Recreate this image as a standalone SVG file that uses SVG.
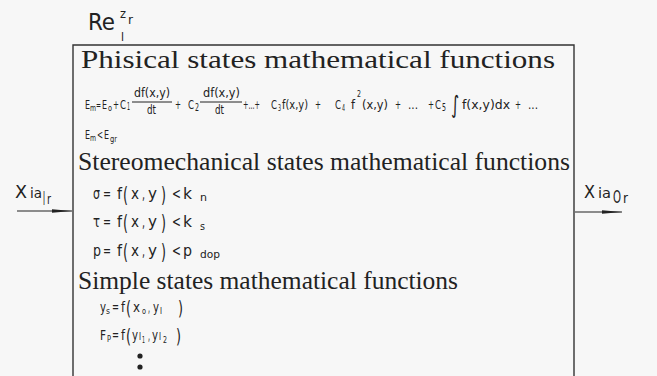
<svg xmlns="http://www.w3.org/2000/svg" width="657" height="376" viewBox="0 0 657 376">
<style>
.bg{fill:#f7f7f7}
.box{fill:none;stroke:#333;stroke-width:1.4}
.ser{font-family:"Liberation Serif","Times New Roman",serif;font-size:25px;fill:#222}
.cad{font-family:"DejaVu Sans Condensed","Liberation Sans",sans-serif;fill:#222}
.conn line{stroke:#222;stroke-width:1.2}
.bar{stroke:#222;stroke-width:1}
</style>
<defs>
<marker id="ah" markerWidth="20" markerHeight="6" refX="20" refY="3" orient="auto" markerUnits="userSpaceOnUse">
<path d="M0,1.2 L20,3 L0,4.8 Z" fill="#222"/>
</marker>
</defs>
<rect class="bg" x="0" y="0" width="657" height="376"/>

<g id="block">
<path class="box" d="M73,376 V45 H574 V376"/>
<g id="label-re" class="cad">
<text x="88" y="30" font-size="23" textLength="27" lengthAdjust="spacingAndGlyphs">Re</text>
<text x="120" y="18" font-size="13" textLength="6" lengthAdjust="spacingAndGlyphs">z</text>
<text x="128" y="24" font-size="12" textLength="5" lengthAdjust="spacingAndGlyphs">r</text>
<text x="121" y="41" font-size="12" textLength="3" lengthAdjust="spacingAndGlyphs">I</text>
</g>

<g id="physical">
<text class="ser" x="81" y="68" textLength="474" lengthAdjust="spacingAndGlyphs">Phisical states mathematical functions</text>
<g class="cad" font-size="12">
<text x="85" y="109" textLength="5" lengthAdjust="spacingAndGlyphs">E</text>
<text x="90" y="111" font-size="8" textLength="6" lengthAdjust="spacingAndGlyphs">m</text>
<text x="96" y="109" textLength="5" lengthAdjust="spacingAndGlyphs">=</text>
<text x="102" y="109" textLength="5" lengthAdjust="spacingAndGlyphs">E</text>
<text x="108" y="111" font-size="8" textLength="4" lengthAdjust="spacingAndGlyphs">o</text>
<text x="113" y="109" textLength="6" lengthAdjust="spacingAndGlyphs">+</text>
<text x="120" y="109" textLength="6" lengthAdjust="spacingAndGlyphs">C</text>
<text x="127" y="110" font-size="10" textLength="3" lengthAdjust="spacingAndGlyphs">1</text>
<text x="134" y="97" font-size="13" textLength="36" lengthAdjust="spacingAndGlyphs">df(x,y)</text>
<line class="bar" x1="132" y1="102" x2="172" y2="102"/>
<text x="147" y="114" textLength="9" lengthAdjust="spacingAndGlyphs">dt</text>
<text x="175" y="109" textLength="6" lengthAdjust="spacingAndGlyphs">+</text>
<text x="188" y="109" textLength="6" lengthAdjust="spacingAndGlyphs">C</text>
<text x="195" y="111" font-size="10" textLength="4" lengthAdjust="spacingAndGlyphs">2</text>
<text x="203" y="97" font-size="13" textLength="37" lengthAdjust="spacingAndGlyphs">df(x,y)</text>
<line class="bar" x1="200" y1="102" x2="242" y2="102"/>
<text x="215" y="114" textLength="9" lengthAdjust="spacingAndGlyphs">dt</text>
<text x="243" y="109" textLength="17" lengthAdjust="spacingAndGlyphs">+...+</text>
<text x="271" y="109" textLength="6" lengthAdjust="spacingAndGlyphs">C</text>
<text x="278" y="111" font-size="9" textLength="3" lengthAdjust="spacingAndGlyphs">3</text>
<text x="282" y="109" textLength="26" lengthAdjust="spacingAndGlyphs">f(x,y)</text>
<text x="315" y="109" textLength="6" lengthAdjust="spacingAndGlyphs">+</text>
<text x="335" y="109" textLength="6" lengthAdjust="spacingAndGlyphs">C</text>
<text x="342" y="111" font-size="9" textLength="3" lengthAdjust="spacingAndGlyphs">4</text>
<text x="351" y="109" textLength="4" lengthAdjust="spacingAndGlyphs">f</text>
<text x="357" y="97" font-size="9" textLength="4" lengthAdjust="spacingAndGlyphs">2</text>
<text x="362" y="109" textLength="26" lengthAdjust="spacingAndGlyphs">(x,y)</text>
<text x="395" y="109" textLength="6" lengthAdjust="spacingAndGlyphs">+</text>
<text x="408" y="109" textLength="10" lengthAdjust="spacingAndGlyphs">...</text>
<text x="428" y="109" textLength="6" lengthAdjust="spacingAndGlyphs">+</text>
<text x="435" y="109" textLength="6" lengthAdjust="spacingAndGlyphs">C</text>
<text x="442" y="111" font-size="10" textLength="4" lengthAdjust="spacingAndGlyphs">5</text>
<text x="451" y="113" font-size="24" textLength="8" lengthAdjust="spacingAndGlyphs">∫</text>
<text x="462" y="109" textLength="48" lengthAdjust="spacingAndGlyphs">f(x,y)dx</text>
<text x="515" y="109" textLength="6" lengthAdjust="spacingAndGlyphs">+</text>
<text x="528" y="109" textLength="10" lengthAdjust="spacingAndGlyphs">...</text>
<text x="85" y="139" textLength="5" lengthAdjust="spacingAndGlyphs">E</text>
<text x="90" y="141" font-size="8" textLength="6" lengthAdjust="spacingAndGlyphs">m</text>
<text x="97" y="139" textLength="6" lengthAdjust="spacingAndGlyphs">&lt;</text>
<text x="104" y="139" textLength="5" lengthAdjust="spacingAndGlyphs">E</text>
<text x="110" y="142" font-size="8" textLength="7" lengthAdjust="spacingAndGlyphs">gr</text>
</g>
</g>

<g id="stereomechanical">
<text class="ser" x="78" y="170" textLength="492" lengthAdjust="spacingAndGlyphs">Stereomechanical states mathematical functions</text>
<g class="cad" font-size="16">
<text x="93" y="199" textLength="7" lengthAdjust="spacingAndGlyphs">σ</text>
<text x="103" y="199" textLength="8" lengthAdjust="spacingAndGlyphs">=</text>
<text x="117" y="199" textLength="5" lengthAdjust="spacingAndGlyphs">f</text>
<text x="123" y="202" font-size="22" textLength="5" lengthAdjust="spacingAndGlyphs">(</text>
<text x="131" y="199" textLength="8" lengthAdjust="spacingAndGlyphs">x</text>
<text x="142" y="199" textLength="3" lengthAdjust="spacingAndGlyphs">,</text>
<text x="148" y="199" textLength="9" lengthAdjust="spacingAndGlyphs">y</text>
<text x="161" y="202" font-size="22" textLength="5" lengthAdjust="spacingAndGlyphs">)</text>
<text x="172" y="199" textLength="9" lengthAdjust="spacingAndGlyphs">&lt;</text>
<text x="183" y="199" textLength="9" lengthAdjust="spacingAndGlyphs">k</text>
<text x="200" y="201" font-size="11" textLength="7" lengthAdjust="spacingAndGlyphs">n</text>

<text x="93" y="227" textLength="7" lengthAdjust="spacingAndGlyphs">τ</text>
<text x="103" y="227" textLength="8" lengthAdjust="spacingAndGlyphs">=</text>
<text x="117" y="227" textLength="5" lengthAdjust="spacingAndGlyphs">f</text>
<text x="123" y="230" font-size="22" textLength="5" lengthAdjust="spacingAndGlyphs">(</text>
<text x="131" y="227" textLength="8" lengthAdjust="spacingAndGlyphs">x</text>
<text x="142" y="227" textLength="3" lengthAdjust="spacingAndGlyphs">,</text>
<text x="148" y="227" textLength="9" lengthAdjust="spacingAndGlyphs">y</text>
<text x="161" y="230" font-size="22" textLength="5" lengthAdjust="spacingAndGlyphs">)</text>
<text x="172" y="227" textLength="9" lengthAdjust="spacingAndGlyphs">&lt;</text>
<text x="183" y="227" textLength="9" lengthAdjust="spacingAndGlyphs">k</text>
<text x="200" y="230" font-size="11" textLength="5" lengthAdjust="spacingAndGlyphs">s</text>

<text x="93" y="256" textLength="8" lengthAdjust="spacingAndGlyphs">p</text>
<text x="103" y="256" textLength="8" lengthAdjust="spacingAndGlyphs">=</text>
<text x="117" y="256" textLength="5" lengthAdjust="spacingAndGlyphs">f</text>
<text x="123" y="259" font-size="22" textLength="5" lengthAdjust="spacingAndGlyphs">(</text>
<text x="131" y="256" textLength="8" lengthAdjust="spacingAndGlyphs">x</text>
<text x="142" y="256" textLength="3" lengthAdjust="spacingAndGlyphs">,</text>
<text x="148" y="256" textLength="9" lengthAdjust="spacingAndGlyphs">y</text>
<text x="161" y="259" font-size="22" textLength="5" lengthAdjust="spacingAndGlyphs">)</text>
<text x="172" y="256" textLength="9" lengthAdjust="spacingAndGlyphs">&lt;</text>
<text x="183" y="256" textLength="9" lengthAdjust="spacingAndGlyphs">p</text>
<text x="200" y="258" font-size="11" textLength="20" lengthAdjust="spacingAndGlyphs">dop</text>
</g>
</g>

<g id="simple">
<text class="ser" x="78" y="289" textLength="380" lengthAdjust="spacingAndGlyphs">Simple states mathematical functions</text>
<g class="cad" font-size="14">
<text x="100" y="312" textLength="6" lengthAdjust="spacingAndGlyphs">y</text>
<text x="106" y="314" font-size="8" textLength="4" lengthAdjust="spacingAndGlyphs">s</text>
<text x="112" y="312" textLength="7" lengthAdjust="spacingAndGlyphs">=</text>
<text x="121" y="312" textLength="4" lengthAdjust="spacingAndGlyphs">f</text>
<text x="126" y="315" font-size="20" textLength="5" lengthAdjust="spacingAndGlyphs">(</text>
<text x="133" y="312" textLength="7" lengthAdjust="spacingAndGlyphs">x</text>
<text x="142" y="314" font-size="8" textLength="4" lengthAdjust="spacingAndGlyphs">o</text>
<text x="148" y="312" textLength="2" lengthAdjust="spacingAndGlyphs">,</text>
<text x="153" y="312" textLength="6" lengthAdjust="spacingAndGlyphs">y</text>
<text x="160" y="314" font-size="8" textLength="2" lengthAdjust="spacingAndGlyphs">I</text>
<text x="178" y="315" font-size="20" textLength="5" lengthAdjust="spacingAndGlyphs">)</text>

<text x="100" y="340" textLength="6" lengthAdjust="spacingAndGlyphs">F</text>
<text x="107" y="342" font-size="8" textLength="4" lengthAdjust="spacingAndGlyphs">P</text>
<text x="112" y="340" textLength="7" lengthAdjust="spacingAndGlyphs">=</text>
<text x="121" y="340" textLength="4" lengthAdjust="spacingAndGlyphs">f</text>
<text x="126" y="343" font-size="20" textLength="5" lengthAdjust="spacingAndGlyphs">(</text>
<text x="132" y="340" textLength="6" lengthAdjust="spacingAndGlyphs">y</text>
<text x="139" y="340" font-size="11" textLength="2" lengthAdjust="spacingAndGlyphs">I</text>
<text x="142" y="343" font-size="8" textLength="3" lengthAdjust="spacingAndGlyphs">1</text>
<text x="148" y="340" textLength="2" lengthAdjust="spacingAndGlyphs">,</text>
<text x="152" y="340" textLength="6" lengthAdjust="spacingAndGlyphs">y</text>
<text x="159" y="340" font-size="11" textLength="2" lengthAdjust="spacingAndGlyphs">I</text>
<text x="163" y="343" font-size="8" textLength="4" lengthAdjust="spacingAndGlyphs">2</text>
<text x="176" y="343" font-size="20" textLength="5" lengthAdjust="spacingAndGlyphs">)</text>
<circle cx="140" cy="356" r="2.6" fill="#222"/>
<circle cx="140" cy="367" r="2.6" fill="#222"/>
</g>
</g>
</g>

<g id="input-label" class="cad">
<text x="15" y="198" font-size="18" textLength="12" lengthAdjust="spacingAndGlyphs">X</text>
<text x="30" y="198" font-size="14" textLength="12" lengthAdjust="spacingAndGlyphs">ia</text>
<text x="43" y="205" font-size="19" textLength="2" lengthAdjust="spacingAndGlyphs">I</text>
<text x="47" y="204" font-size="14" textLength="4" lengthAdjust="spacingAndGlyphs">r</text>
</g>
<g id="output-label" class="cad">
<text x="584" y="198" font-size="18" textLength="11" lengthAdjust="spacingAndGlyphs">X</text>
<text x="598" y="198" font-size="14" textLength="13" lengthAdjust="spacingAndGlyphs">ia</text>
<text x="613" y="203" font-size="17" textLength="8" lengthAdjust="spacingAndGlyphs">O</text>
<text x="623" y="203" font-size="14" textLength="5" lengthAdjust="spacingAndGlyphs">r</text>
</g>

<g id="connectors" class="conn">
<line x1="17" y1="211" x2="72" y2="211" marker-end="url(#ah)"/>
<line x1="575" y1="212" x2="622" y2="212" marker-end="url(#ah)"/>
</g>
</svg>
